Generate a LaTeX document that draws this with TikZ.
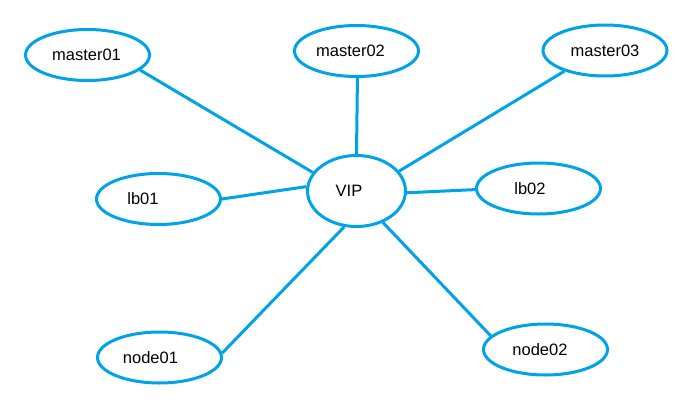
\documentclass[tikz,border=0pt]{standalone}
\usepackage{fontspec}
\setmainfont{Liberation Sans}
\usetikzlibrary{shapes.geometric}
\definecolor{lineblue}{RGB}{0,162,232}
\begin{document}
\begin{tikzpicture}[x=1pt,y=-1pt,
  oval/.style={ellipse,draw=lineblue,line width=3pt,minimum width=124pt,minimum height=51pt,inner sep=0pt,font=\fontsize{16.5}{18}\selectfont},
  link/.style={draw=lineblue,line width=3pt}]
\useasboundingbox (0,0) rectangle (681,402);
\node[oval] (m1) at (87.5,55) {master01\hspace*{2pt}};
\node[oval] (m2) at (356.5,51) {master02\hspace*{12pt}};
\node[oval] (m3) at (605,50.5) {master03};
\node[oval,minimum width=98pt,minimum height=71pt] (vip) at (356.5,191) {VIP\hspace*{15pt}};
\node[oval] (lb1) at (158.5,199) {lb01\hspace*{31pt}};
\node[oval] (lb2) at (538.5,188.5) {lb02\hspace*{17pt}};
\node[oval] (n1) at (159.5,357.5) {node01\hspace*{18pt}};
\node[oval] (n2) at (545.5,349.5) {node02\hspace*{11pt}};
\draw[link] (m1.-16) -- (vip.157);
\draw[link] (m2.-88) -- (vip.90);
\draw[link] (m3.-153) -- (vip.25);
\draw[link] (lb1.0) -- (vip.175);
\draw[link] (vip.-2) -- (lb2.181);
\draw[link] (n1.4) -- (vip.-109);
\draw[link] (vip.-50) -- (n2.166);
\end{tikzpicture}
\end{document}
